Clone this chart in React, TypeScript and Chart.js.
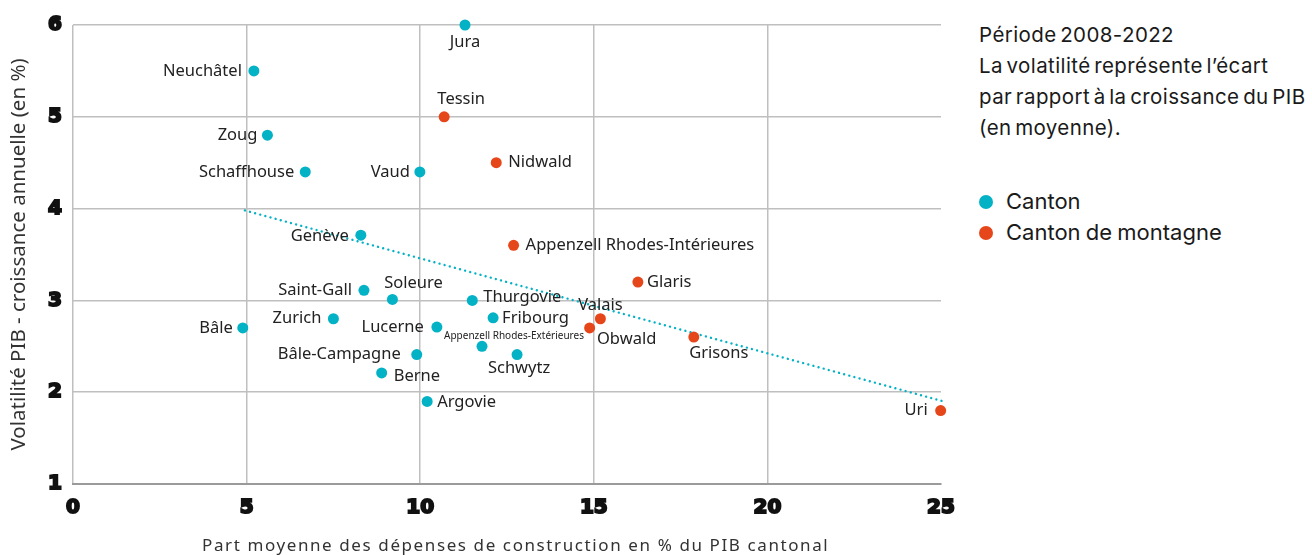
import React, { useEffect, useRef } from "react";
import { Chart, registerables } from "chart.js";

Chart.register(...registerables);

// ---- Data ----
const cantonNames = [
  "Jura", "Neuchâtel", "Zoug", "Schaffhouse", "Vaud", "Genève", "Saint-Gall", "Soleure",
  "Thurgovie", "Zurich", "Bâle", "Lucerne", "Fribourg", "Appenzell Rhodes-Extérieures",
  "Schwytz", "Bâle-Campagne", "Berne", "Argovie",
];
const cantonX = [11.29, 5.21, 5.6, 6.69, 9.99, 8.29, 8.38, 9.2, 11.5, 7.5, 4.89, 10.48, 12.1, 11.78, 12.79, 9.9, 8.89, 10.2];
const cantonY = [6.0, 5.5, 4.8, 4.4, 4.4, 3.71, 3.11, 3.01, 3.0, 2.8, 2.7, 2.71, 2.81, 2.5, 2.41, 2.41, 2.21, 1.9];

const mountainNames = ["Tessin", "Nidwald", "Appenzell Rhodes-Intérieures", "Glaris", "Valais", "Obwald", "Grisons", "Uri"];
const mountainX = [10.69, 12.19, 12.69, 16.27, 15.19, 14.88, 17.88, 24.99];
const mountainY = [5.0, 4.5, 3.6, 3.2, 2.8, 2.7, 2.6, 1.8];

const trendX = [4.95, 25.07];
const trendY = [3.98, 1.9];

const xTicks = [0, 5, 10, 15, 20, 25];
const yTicks = [1, 2, 3, 4, 5, 6];

const legendLabels = ["Canton", "Canton de montagne"];
const noteLines = [
  "Période 2008-2022",
  "La volatilité représente l’écart",
  "par rapport à la croissance du PIB",
  "(en moyenne).",
];
const xTitle = "Part moyenne des dépenses de construction en % du PIB cantonal";
const yTitle = "Volatilité PIB - croissance annuelle (en %)";

// ---- Label placement (align, dx, dy) ----
const labelPlacement: Record<string, [CanvasTextAlign, number, number]> = {
  "Neuchâtel": ["right", -12, 0],
  "Zoug": ["right", -10, 0],
  "Schaffhouse": ["right", -11, 0],
  "Vaud": ["right", -10, 0],
  "Genève": ["right", -12, 1],
  "Saint-Gall": ["right", -12, 0],
  "Zurich": ["right", -12, 0],
  "Bâle": ["right", -10, 0],
  "Lucerne": ["right", -13, 0],
  "Bâle-Campagne": ["right", -16, 0],
  "Uri": ["right", -13, 0],
  "Jura": ["center", 0, 17],
  "Tessin": ["center", 17, -18],
  "Soleure": ["center", 21, -16],
  "Appenzell Rhodes-Extérieures": ["center", 32, -10],
  "Schwytz": ["center", 2, 14],
  "Valais": ["center", 0, -13],
  "Obwald": ["center", 37, 11],
  "Grisons": ["center", 25, 16],
  "Nidwald": ["left", 12, 0],
  "Appenzell Rhodes-Intérieures": ["left", 12, 0],
  "Thurgovie": ["left", 11, -3],
  "Fribourg": ["left", 9, 0],
  "Berne": ["left", 12, 3],
  "Argovie": ["left", 10, 1],
  "Glaris": ["left", 9, 0],
};

const TEAL = "#04b2c6";
const ORANGE = "#e6471a";
const GRID = "#bfbfbf";
const LABEL_FONT = "'Noto Sans', sans-serif";
const TICK_FONT = { family: "'DejaVu Sans', sans-serif", weight: "bold", size: 20 };

const labelPlugin = {
  id: "pointLabels",
  afterDatasetsDraw(chart: any) {
    const ctx = chart.ctx;
    const sets: [number, string[]][] = [[0, cantonNames], [1, mountainNames]];
    ctx.save();
    ctx.fillStyle = "#222";
    ctx.textBaseline = "middle";
    for (const [di, names] of sets) {
      const meta = chart.getDatasetMeta(di);
      meta.data.forEach((el: any, i: number) => {
        const name = names[i];
        const p = labelPlacement[name] || ["left", 10, 0];
        const small = name === "Appenzell Rhodes-Extérieures";
        ctx.font = `${small ? 10 : 16.5}px ${LABEL_FONT}`;
        ctx.textAlign = p[0];
        ctx.fillText(name, el.x + p[1], el.y + p[2]);
      });
    }
    ctx.restore();
  },
};

export default function App() {
  const canvasRef = useRef<HTMLCanvasElement | null>(null);

  useEffect(() => {
    if (!canvasRef.current) return;
    const chart = new Chart(canvasRef.current, {
      type: "scatter",
      data: {
        datasets: [
          {
            label: legendLabels[0],
            data: cantonX.map((x, i) => ({ x, y: cantonY[i] })),
            backgroundColor: TEAL,
            borderWidth: 0,
            pointRadius: 5.5,
            clip: false,
          } as any,
          {
            label: legendLabels[1],
            data: mountainX.map((x, i) => ({ x, y: mountainY[i] })),
            backgroundColor: ORANGE,
            borderWidth: 0,
            pointRadius: 5.5,
            clip: false,
          } as any,
          {
            type: "line",
            label: "Tendance",
            data: trendX.map((x, i) => ({ x, y: trendY[i] })),
            borderColor: TEAL,
            borderWidth: 2.4,
            borderDash: [0.01, 5.3],
            borderCapStyle: "round",
            pointRadius: 0,
            showLine: true,
            fill: false,
            clip: false,
            order: 5,
          } as any,
        ],
      },
      options: {
        responsive: false,
        devicePixelRatio: 1,
        animation: false,
        layout: { padding: { top: 25, right: 19, left: 0, bottom: 0 } },
        plugins: {
          legend: { display: false },
          tooltip: { enabled: false },
        },
        scales: {
          x: {
            type: "linear",
            min: 0,
            max: 25,
            afterBuildTicks: (s: any) => {
              s.ticks = xTicks.map((v) => ({ value: v }));
            },
            afterFit: (s: any) => {
              s.height = 71;
              s.paddingLeft = 0;
              s.paddingRight = 0;
            },
            ticks: {
              padding: 12,
              color: "#111",
              font: TICK_FONT,
              textStrokeColor: "#111",
              textStrokeWidth: 2,
            },
            grid: {
              drawTicks: false,
              lineWidth: 1.5,
              color: (c: any) => (c.tick && c.tick.value === 25 ? "rgba(0,0,0,0)" : GRID),
            },
            border: { display: true, color: "#9a9a9a", width: 2 },
            title: { display: false, text: xTitle },
          },
          y: {
            type: "linear",
            min: 1,
            max: 6,
            afterBuildTicks: (s: any) => {
              s.ticks = yTicks.map((v) => ({ value: v }));
            },
            afterFit: (s: any) => {
              s.width = 73;
              s.paddingTop = 0;
              s.paddingBottom = 0;
            },
            ticks: {
              padding: 11,
              color: "#111",
              font: TICK_FONT,
              textStrokeColor: "#111",
              textStrokeWidth: 2,
            },
            grid: { drawTicks: false, lineWidth: 1.5, color: GRID },
            border: { display: false },
            title: {
              display: true,
              text: yTitle,
              color: "#333",
              font: { family: LABEL_FONT, size: 20.5 },
              padding: { top: 7, bottom: 0 },
            },
          },
        },
      },
      plugins: [labelPlugin],
    } as any);
    return () => chart.destroy();
  }, []);

  return (
    <div style={{ position: "fixed", left: 0, top: 0, width: 1312, height: 555, background: "#fff", overflow: "hidden" }}>
      <canvas ref={canvasRef} width={960} height={555} style={{ position: "absolute", left: 0, top: 0 }} />
      <div
        style={{
          position: "absolute",
          left: 202,
          width: 600,
          top: 533,
          textAlign: "center",
          fontFamily: LABEL_FONT,
          fontSize: 17,
          lineHeight: "24px",
          letterSpacing: "1.6px",
          color: "#333",
          whiteSpace: "nowrap",
        }}
      >
        {xTitle}
      </div>
      <div
        style={{
          position: "absolute",
          left: 979,
          top: 19,
          fontFamily: "Inter, sans-serif",
          fontSize: 20.5,
          lineHeight: "31px",
          letterSpacing: "0.4px",
          wordSpacing: "-2.5px",
          color: "#1a1a1a",
          whiteSpace: "nowrap",
        }}
      >
        {noteLines.map((l) => (
          <div key={l}>{l}</div>
        ))}
      </div>
      <div
        style={{
          position: "absolute",
          left: 979,
          top: 186,
          fontFamily: "Inter, sans-serif",
          fontSize: 22,
          lineHeight: "31px",
          wordSpacing: "-1px",
          color: "#1a1a1a",
          whiteSpace: "nowrap",
        }}
      >
        {legendLabels.map((l, i) => (
          <div key={l} style={{ display: "flex", alignItems: "center" }}>
            <span
              style={{
                display: "inline-block",
                width: 14,
                height: 14,
                borderRadius: 7,
                background: i === 0 ? TEAL : ORANGE,
                marginRight: 13,
                flex: "none",
              }}
            />
            <span>{l}</span>
          </div>
        ))}
      </div>
    </div>
  );
}
